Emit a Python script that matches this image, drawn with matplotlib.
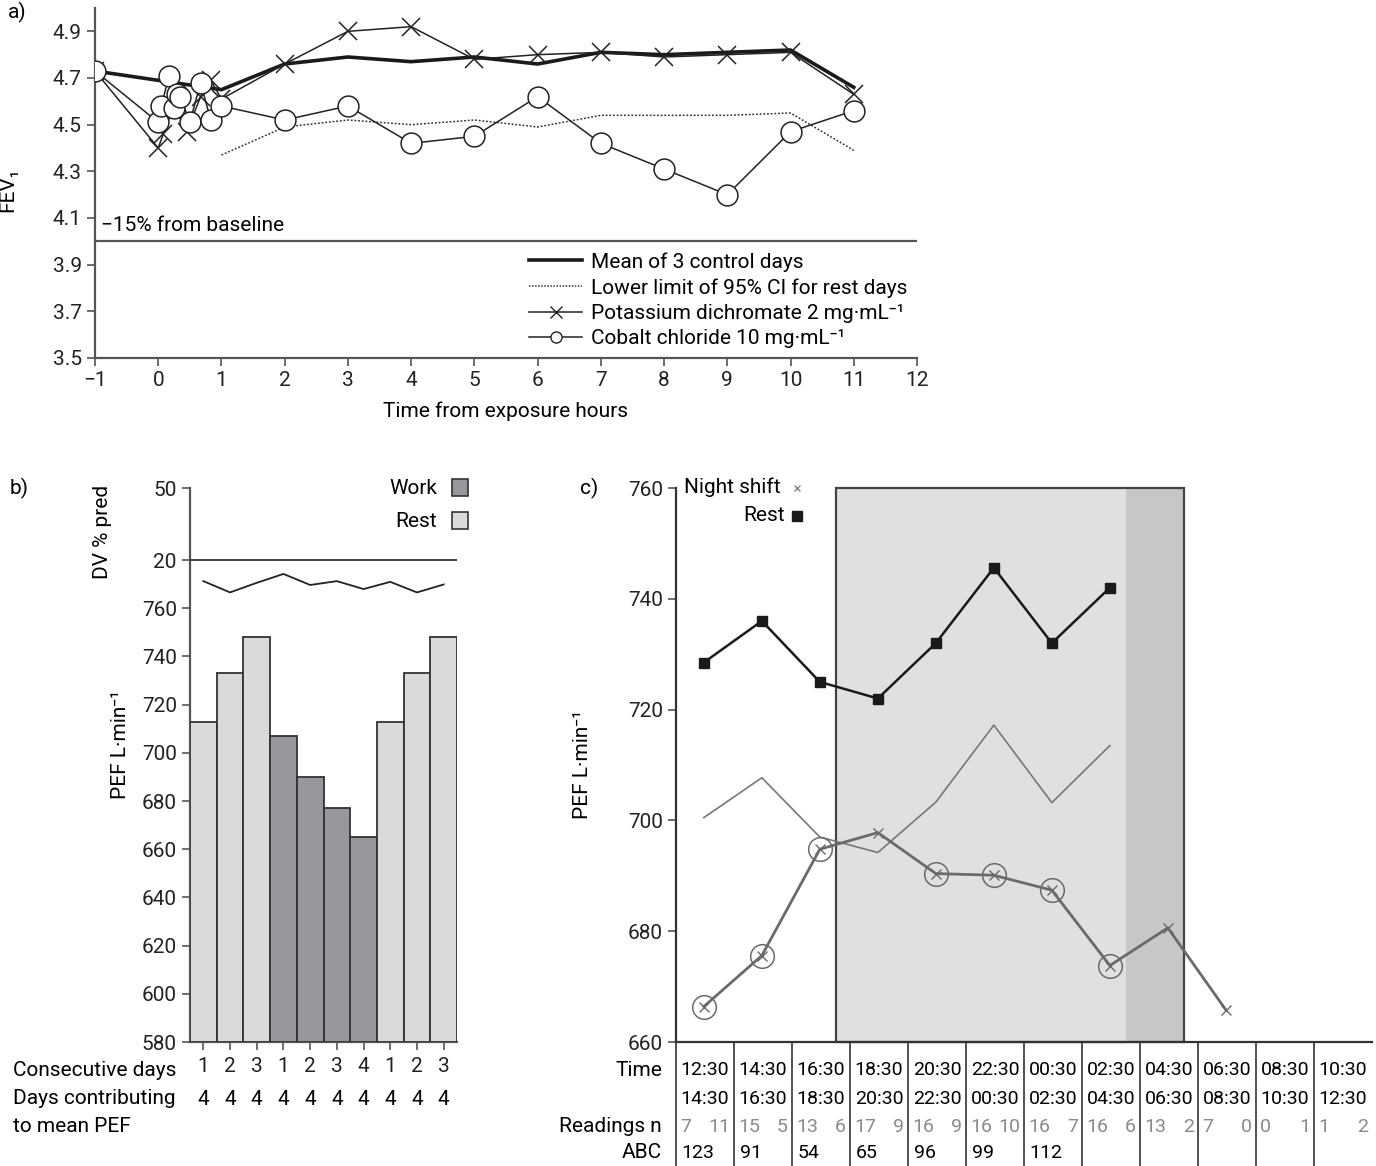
import numpy as np
import matplotlib.pyplot as plt
from matplotlib.patches import Rectangle
from matplotlib.lines import Line2D

FS = 15
FT = 14  # table cells in panel c
plt.rcParams['font.family'] = ['Roboto', 'DejaVu Sans']
plt.rcParams['font.size'] = FS
plt.rcParams['axes.edgecolor'] = '#555555'
plt.rcParams['xtick.color'] = '#555555'
plt.rcParams['ytick.color'] = '#555555'
plt.rcParams['xtick.labelcolor'] = '#222222'
plt.rcParams['ytick.labelcolor'] = '#222222'

# ---- panel a data (FEV1 vs time) ----
mean_x = [-1, 0.5, 1, 2, 3, 4, 5, 6, 7, 8, 9, 10, 11]
mean_y = [4.73, 4.67, 4.65, 4.76, 4.79, 4.77, 4.79, 4.76, 4.81, 4.80, 4.81, 4.82, 4.66]
ci_x = [1, 2, 3, 4, 5, 6, 7, 8, 9, 10, 11]
ci_y = [4.37, 4.49, 4.52, 4.50, 4.52, 4.49, 4.54, 4.54, 4.54, 4.55, 4.39]
pot_x = [-1, 0, 0.08, 0.25, 0.45, 0.67, 0.83, 1, 2, 3, 4, 5, 6, 7, 8, 9, 10, 11]
pot_y = [4.73, 4.40, 4.46, 4.58, 4.47, 4.62, 4.69, 4.61, 4.76, 4.90, 4.92, 4.78, 4.80,
         4.81, 4.79, 4.80, 4.81, 4.63]
cob_x = [-1, 0, 0.05, 0.17, 0.25, 0.3, 0.35, 0.5, 0.67, 0.83, 1, 2, 3, 4, 5, 6, 7, 8, 9, 10, 11]
cob_y = [4.73, 4.51, 4.58, 4.71, 4.57, 4.63, 4.62, 4.51, 4.68, 4.52, 4.58, 4.52, 4.58,
         4.42, 4.45, 4.62, 4.42, 4.31, 4.20, 4.47, 4.56]
baseline_15 = 4.0

# ---- panel b data (work / rest PEF) ----
consec_days = ['1', '2', '3', '1', '2', '3', '4', '1', '2', '3']
days_contrib = ['4'] * 10
status = ['Rest', 'Rest', 'Rest', 'Work', 'Work', 'Work', 'Work', 'Rest', 'Rest', 'Rest']
pef_b = [713, 733, 748, 707, 690, 677, 665, 713, 733, 748]
dv_b = [11.2, 6.5, 10.5, 14.2, 9.6, 11.2, 7.9, 10.9, 6.5, 9.8]

# ---- panel c data (night shift) ----
time_start = ['12:30', '14:30', '16:30', '18:30', '20:30', '22:30', '00:30', '02:30',
              '04:30', '06:30', '08:30', '10:30']
time_end = ['14:30', '16:30', '18:30', '20:30', '22:30', '00:30', '02:30', '04:30',
            '06:30', '08:30', '10:30', '12:30']
readings_a = ['7', '15', '13', '17', '16', '16', '16', '16', '13', '7', '0', '1']
readings_b = ['11', '5', '6', '9', '9', '10', '7', '6', '2', '0', '1', '2']
abc = ['123', '91', '54', '65', '96', '99', '112', '', '', '', '', '']
rest_c = [728.5, 736, 725, 722, 732, 745.6, 732, 742]
upper_c = [700.5, 707.7, 697, 694.2, 703.3, 717.2, 703.2, 713.5]
night_c = [666.4, 675.6, 694.8, 697.8, 690.4, 690.1, 687.4, 673.8, 680.6, 665.8]
circled = [0, 1, 2, 4, 5, 6, 7]
shift_light = (2.75, 7.75)
shift_dark = (7.75, 8.75)

W, H = 1376, 1166
fig = plt.figure(figsize=(W / 100, H / 100), dpi=100)

def rect(l, t, r, b):
    return [l / W, 1 - b / H, (r - l) / W, (b - t) / H]

def ftext(x, y, s, **kw):
    fig.text(x / W, 1 - y / H, s, **kw)

# ================= panel a =================
ax = fig.add_axes(rect(95, 8, 917, 358))
ax.plot(mean_x, mean_y, color='#1a1a1a', lw=2.6, zorder=4)
ax.plot(ci_x, ci_y, color='#333333', lw=1.1, ls=(0, (1.2, 1.2)), zorder=3)
ax.plot(pot_x, pot_y, color='#222222', lw=1.1, marker='x', ms=13, mew=1.1, zorder=5)
ax.plot(cob_x, cob_y, color='#222222', lw=1.1, marker='o', ms=15, mfc='white',
        mec='#222222', mew=1.1, zorder=6)
ax.axhline(baseline_15, color='#555555', lw=1.6)
ax.text(-0.9, baseline_15 + 0.025, '\u221215% from baseline', fontsize=FS, va='bottom')
ax.set_xlim(-1, 12)
ax.set_ylim(3.5, 5.0)
ax.set_xticks(range(-1, 13))
ax.set_xticklabels(['\u22121'] + [str(i) for i in range(0, 13)])
ax.set_yticks(np.arange(3.5, 4.95, 0.2))
ax.set_yticklabels(['%.1f' % v for v in np.arange(3.5, 4.95, 0.2)])
for s in ['top', 'right']:
    ax.spines[s].set_visible(False)
ax.spines['left'].set_linewidth(1.6)
ax.spines['bottom'].set_linewidth(1.6)
ax.tick_params(length=6, width=1.2, labelsize=FS)
ax.set_xlabel('Time from exposure hours', fontsize=FS)
ax.xaxis.set_label_coords(0.5, -0.125)
ax.set_ylabel('FEV\u2081', fontsize=FS)
ax.yaxis.set_label_coords(-0.094, 0.48)
handles = [Line2D([], [], color='#1a1a1a', lw=2.6),
           Line2D([], [], color='#333333', lw=1.1, ls=(0, (1, 1))),
           Line2D([], [], color='#222222', lw=1.1, marker='x', ms=9),
           Line2D([], [], color='#222222', lw=1.1, marker='o', ms=8, mfc='white')]
labels = ['Mean of 3 control days', 'Lower limit of 95% CI for rest days',
          'Potassium dichromate 2 mg\u00b7mL\u207b\u00b9', 'Cobalt chloride 10 mg\u00b7mL\u207b\u00b9']
ax.legend(handles, labels, loc='upper left', bbox_to_anchor=(0.518, 0.326), frameon=False,
          handlelength=2.55, handletextpad=0.4, labelspacing=0.3, fontsize=FS,
          borderaxespad=0)
ftext(8, 12, 'a)', fontsize=FS, va='center')

# ================= panel b =================
axb = fig.add_axes(rect(190, 488, 457, 1042))
pos = np.arange(len(pef_b))
cols = ['#97989b' if s == 'Work' else '#d9dadc' for s in status]
axb.bar(pos, np.array(pef_b) - 580, bottom=580, width=1, color=cols, edgecolor='#333333',
        lw=1.3, zorder=3)
axb.set_xlim(-0.5, 9.5)
axb.set_ylim(580, 809.9)
axb.set_yticks(range(580, 761, 20))
axb.set_xticks(pos)
axb.set_xticklabels(consec_days)
for s in ['top', 'right']:
    axb.spines[s].set_visible(False)
axb.spines['left'].set_linewidth(1.6)
axb.spines['bottom'].set_linewidth(1.6)
axb.tick_params(length=6, width=1.2, labelsize=FS)
axb.tick_params(axis='x', pad=5)
trb = axb.get_xaxis_transform()
for i, d in enumerate(days_contrib):
    axb.text(pos[i], -0.103, d, transform=trb, ha='center', va='center', fontsize=FS)

axd = fig.add_axes(rect(190, 488, 457, 1042))
axd.patch.set_visible(False)
axd.set_xlim(-0.5, 9.5)
axd.set_ylim(-180.8, 50)
axd.axhline(20, color='#333333', lw=1.3)
axd.plot(pos, dv_b, color='#222222', lw=1.3)
axd.set_yticks([20, 50])
axd.set_xticks([])
for s in axd.spines.values():
    s.set_visible(False)
axd.tick_params(length=6, width=1.2, labelsize=FS)

ftext(10, 488, 'b)', fontsize=FS, va='center')
ftext(103, 532, 'DV % pred', rotation=90, ha='center', va='center', fontsize=FS)
ftext(120, 745, 'PEF L\u00b7min\u207b\u00b9', rotation=90, ha='center', va='center', fontsize=FS)
ftext(437, 488, 'Work', ha='right', va='center', fontsize=FS)
ftext(437, 521, 'Rest', ha='right', va='center', fontsize=FS)
fig.patches.append(Rectangle((452 / W, 1 - 496 / H), 16 / W, 17 / H, transform=fig.transFigure,
                             fc='#97989b', ec='#333333', lw=1.2))
fig.patches.append(Rectangle((452 / W, 1 - 529 / H), 16 / W, 17 / H, transform=fig.transFigure,
                             fc='#d9dadc', ec='#333333', lw=1.2))
ftext(13, 1070, 'Consecutive days', va='center', fontsize=FS)
ftext(13, 1099, 'Days contributing', va='center', fontsize=FS)
ftext(13, 1126, 'to mean PEF', va='center', fontsize=FS)

# ================= panel c =================
axc = fig.add_axes(rect(676, 488, 1372, 1042))
axc.set_xlim(0, 12)
axc.set_ylim(660, 760)
axc.axvspan(*shift_light, color='#dfe0e2', lw=0, zorder=0)
axc.axvspan(*shift_dark, color='#c6c7c9', lw=0, zorder=0)
axc.add_patch(Rectangle((shift_light[0], 660), shift_dark[1] - shift_light[0], 100, fc='none',
                        ec='#444444', lw=1.6, zorder=1, clip_on=False))
cx = np.arange(len(time_start)) + 0.48
axc.plot(cx[:len(rest_c)], rest_c, color='#1a1a1a', lw=1.8, marker='s', ms=7, zorder=4)
axc.plot(cx[:len(upper_c)], upper_c, color='#777777', lw=1.2, zorder=3)
axc.plot(cx[:len(night_c)], night_c, color='#6a6a6a', lw=2, marker='x', ms=7, mew=1, zorder=4)
axc.plot(cx[circled], np.array(night_c)[circled], ls='none', marker='o', ms=17, mfc='none',
         mec='#6a6a6a', mew=1.1, zorder=4)
axc.set_yticks(range(660, 761, 20))
axc.set_xticks(range(0, 12))
axc.set_xticklabels([])
axc.tick_params(axis='x', length=89, width=1.2, color='#333333')
axc.tick_params(axis='y', length=6, width=1.2, labelsize=FS)
for s in ['top', 'right']:
    axc.spines[s].set_visible(False)
axc.spines['left'].set_linewidth(1.6)
axc.spines['bottom'].set_linewidth(1.6)
axc.spines['left'].set_color('#333333')
axc.spines['bottom'].set_color('#333333')
axc.set_ylabel('PEF L\u00b7min\u207b\u00b9', fontsize=FS)
axc.yaxis.set_label_coords(-0.121, 0.5)

trc = axc.get_xaxis_transform()
def yax(py):
    return (1042 - py) / 554.0

for i in range(len(time_start)):
    axc.text(i + 0.5, yax(1070), time_start[i], transform=trc, ha='center', va='center', fontsize=FT)
    axc.text(i + 0.5, yax(1099), time_end[i], transform=trc, ha='center', va='center', fontsize=FT)
    axc.text(i + 0.07, yax(1127), readings_a[i], transform=trc, ha='left', va='center',
             fontsize=FT, color='#8a8a8a')
    axc.text(i + 0.93, yax(1127), readings_b[i], transform=trc, ha='right', va='center',
             fontsize=FT, color='#8a8a8a')
    if abc[i]:
        axc.text(i + 0.1, yax(1153), abc[i], transform=trc, ha='left', va='center', fontsize=FT)

ftext(662, 1070, 'Time', ha='right', va='center', fontsize=FS)
ftext(662, 1127, 'Readings n', ha='right', va='center', fontsize=FS)
ftext(662, 1153, 'ABC', ha='right', va='center', fontsize=FS)
ftext(580, 488, 'c)', fontsize=FS, va='center')
ftext(684, 487, 'Night shift', ha='left', va='center', fontsize=FS)
ftext(785, 516, 'Rest', ha='right', va='center', fontsize=FS)
axc.plot([(797 - 676) / 696], [1.0], transform=axc.transAxes, marker='x', ms=5, mew=0.9,
         color='#777777', clip_on=False)
axc.plot([(797 - 676) / 696], [0.9495], transform=axc.transAxes, marker='s', ms=7,
         color='#1a1a1a', clip_on=False)

fig.savefig('out.png', dpi=100)
